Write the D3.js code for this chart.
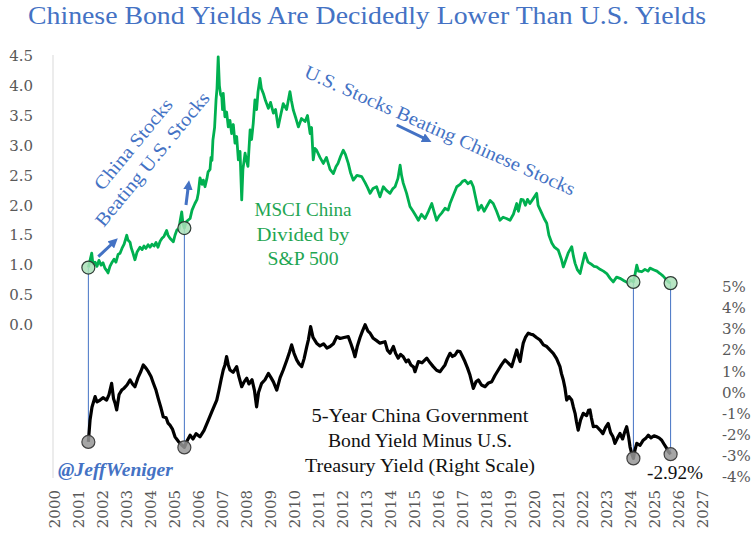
<!DOCTYPE html>
<html><head><meta charset="utf-8">
<script src="https://cdn.jsdelivr.net/npm/d3@7"></script>
<style>
html,body{margin:0;padding:0;background:#fff;}
svg{display:block;}
</style></head>
<body><svg id="chart" width="755" height="536"></svg>
<script>
// ---- data ----
const msciDates = [2001.39,2001.46,2001.53,2001.58,2001.67,2001.75,2001.83,2001.92,2002.00,2002.08,2002.17,2002.21,2002.29,2002.38,2002.46,2002.54,2002.63,2002.71,2002.79,2002.88,2002.99,2003.04,2003.13,2003.17,2003.25,2003.33,2003.42,2003.54,2003.63,2003.71,2003.79,2003.88,2003.96,2004.04,2004.13,2004.21,2004.29,2004.38,2004.46,2004.54,2004.65,2004.71,2004.79,2004.93,2005.00,2005.08,2005.17,2005.21,2005.28,2005.33,2005.39,2005.46,2005.54,2005.63,2005.71,2005.83,2005.92,2005.97,2006.04,2006.13,2006.18,2006.25,2006.33,2006.38,2006.46,2006.50,2006.54,2006.58,2006.65,2006.71,2006.75,2006.80,2006.85,2006.90,2006.95,2006.98,2007.01,2007.08,2007.15,2007.22,2007.29,2007.36,2007.43,2007.50,2007.57,2007.64,2007.71,2007.78,2007.83,2007.92,2007.98,2008.04,2008.13,2008.19,2008.26,2008.33,2008.40,2008.46,2008.54,2008.60,2008.68,2008.77,2008.89,2008.98,2009.10,2009.19,2009.30,2009.40,2009.51,2009.65,2009.79,2009.85,2009.93,2010.04,2010.14,2010.27,2010.42,2010.52,2010.63,2010.69,2010.76,2010.83,2010.90,2011.04,2011.18,2011.31,2011.46,2011.60,2011.71,2011.79,2011.90,2012.01,2012.10,2012.22,2012.31,2012.43,2012.58,2012.78,2012.92,2013.02,2013.13,2013.25,2013.40,2013.54,2013.68,2013.81,2013.96,2014.08,2014.17,2014.29,2014.38,2014.44,2014.51,2014.65,2014.79,2014.92,2015.04,2015.14,2015.27,2015.42,2015.56,2015.70,2015.79,2015.90,2016.00,2016.11,2016.25,2016.38,2016.46,2016.58,2016.74,2016.88,2016.98,2017.08,2017.21,2017.33,2017.43,2017.54,2017.64,2017.77,2017.88,2017.99,2018.13,2018.26,2018.40,2018.54,2018.67,2018.81,2018.96,2019.10,2019.24,2019.31,2019.42,2019.51,2019.60,2019.69,2019.79,2019.94,2020.07,2020.13,2020.28,2020.38,2020.49,2020.58,2020.70,2020.81,2020.97,2021.10,2021.18,2021.25,2021.38,2021.53,2021.60,2021.67,2021.77,2021.88,2021.96,2022.08,2022.21,2022.33,2022.46,2022.57,2022.71,2022.85,2022.99,2023.13,2023.26,2023.40,2023.54,2023.71,2023.89,2023.98,2024.10,2024.17,2024.24,2024.31,2024.45,2024.58,2024.71,2024.79,2024.96,2025.08,2025.21,2025.33,2025.49,2025.56,2025.65];
const msciRatio = [0.96,1.08,1.20,1.02,1.05,0.98,1.08,1.00,1.04,0.95,0.90,0.87,0.98,1.05,1.10,1.05,1.18,1.20,1.28,1.35,1.50,1.42,1.38,1.30,1.20,1.09,1.22,1.30,1.26,1.32,1.28,1.34,1.30,1.35,1.32,1.38,1.30,1.40,1.45,1.48,1.58,1.50,1.45,1.39,1.50,1.59,1.60,1.73,1.89,1.70,1.62,1.72,1.75,1.78,1.92,2.03,2.10,2.20,2.46,2.35,2.42,2.31,2.45,2.56,2.60,2.80,2.75,3.09,3.30,3.76,3.95,4.48,4.00,3.85,3.81,3.60,3.87,3.48,3.56,3.31,3.42,3.20,3.35,3.04,3.15,2.76,2.90,2.09,2.60,2.87,2.75,2.65,3.26,3.10,3.37,3.76,3.60,3.90,4.12,3.95,3.87,3.75,3.62,3.72,3.54,3.60,3.31,3.50,3.70,3.60,3.90,3.75,3.59,3.45,3.31,3.45,3.40,3.50,3.20,3.30,2.76,2.95,2.92,2.80,2.70,2.80,2.60,2.53,2.65,2.70,2.82,2.92,2.85,2.70,2.55,2.42,2.50,2.48,2.38,2.30,2.20,2.28,2.31,2.14,2.31,2.25,2.20,2.28,2.31,2.45,2.67,2.50,2.37,2.20,1.98,1.90,1.82,1.75,1.85,1.78,1.90,2.03,1.90,1.75,1.82,1.87,1.95,1.92,2.03,2.15,2.31,2.35,2.40,2.42,2.36,2.40,2.31,2.10,1.92,2.00,1.90,1.98,2.08,2.03,1.90,1.75,1.80,1.78,1.75,1.85,2.03,1.90,2.10,2.09,2.00,2.10,2.03,2.12,2.20,2.00,1.87,1.78,1.70,1.50,1.37,1.30,1.25,1.10,0.97,1.05,1.20,1.31,1.15,1.03,0.92,0.86,1.00,1.20,1.05,1.02,0.98,0.97,0.93,0.90,0.86,0.78,0.72,0.80,0.78,0.74,0.70,0.75,0.72,0.85,1.00,0.90,0.89,0.93,0.90,0.95,0.92,0.90,0.86,0.82,0.75,0.72,0.70];

const spreadDates = [2001.39,2001.46,2001.54,2001.67,2001.75,2001.88,2002.00,2002.15,2002.25,2002.36,2002.44,2002.50,2002.57,2002.67,2002.78,2002.88,2003.00,2003.13,2003.23,2003.33,2003.46,2003.58,2003.68,2003.79,2003.89,2004.00,2004.10,2004.21,2004.30,2004.42,2004.51,2004.63,2004.71,2004.79,2004.90,2005.00,2005.13,2005.25,2005.39,2005.50,2005.63,2005.75,2005.88,2006.04,2006.21,2006.39,2006.54,2006.74,2006.83,2006.92,2007.01,2007.08,2007.15,2007.22,2007.29,2007.42,2007.57,2007.65,2007.78,2007.88,2007.99,2008.08,2008.21,2008.31,2008.40,2008.48,2008.61,2008.75,2008.89,2009.00,2009.10,2009.24,2009.38,2009.51,2009.65,2009.77,2009.86,2009.96,2010.07,2010.17,2010.28,2010.38,2010.49,2010.56,2010.65,2010.75,2010.90,2011.04,2011.19,2011.33,2011.46,2011.60,2011.74,2011.88,2012.04,2012.22,2012.33,2012.42,2012.50,2012.60,2012.71,2012.81,2012.92,2013.04,2013.13,2013.26,2013.40,2013.54,2013.75,2013.85,2013.96,2014.10,2014.19,2014.30,2014.40,2014.51,2014.63,2014.72,2014.83,2014.94,2015.00,2015.14,2015.29,2015.49,2015.63,2015.76,2015.90,2016.04,2016.15,2016.25,2016.35,2016.46,2016.56,2016.67,2016.77,2016.88,2016.98,2017.08,2017.19,2017.29,2017.43,2017.54,2017.64,2017.77,2017.92,2018.06,2018.20,2018.33,2018.47,2018.60,2018.75,2018.88,2019.03,2019.13,2019.24,2019.31,2019.38,2019.44,2019.51,2019.60,2019.72,2019.83,2019.93,2020.06,2020.21,2020.35,2020.49,2020.63,2020.76,2020.90,2021.04,2021.10,2021.18,2021.25,2021.32,2021.42,2021.53,2021.60,2021.67,2021.73,2021.80,2021.90,2022.01,2022.15,2022.23,2022.29,2022.35,2022.43,2022.56,2022.71,2022.83,2022.94,2023.05,2023.15,2023.25,2023.33,2023.44,2023.54,2023.65,2023.73,2023.82,2023.90,2023.96,2024.03,2024.10,2024.17,2024.24,2024.38,2024.51,2024.63,2024.72,2024.83,2024.96,2025.07,2025.17,2025.28,2025.38,2025.49,2025.56,2025.65];
const spreadValues = [-2.34,-1.31,-0.70,-0.20,-0.45,-0.36,-0.25,-0.36,-0.10,0.43,-0.30,-0.50,-0.83,-0.10,0.11,0.20,0.35,0.59,0.40,0.27,0.70,1.00,1.30,1.15,0.98,0.75,0.43,0.10,-0.28,-0.75,-1.15,-1.20,-1.45,-1.55,-1.75,-2.10,-2.30,-2.45,-2.60,-2.30,-2.02,-2.20,-1.95,-2.10,-1.80,-1.31,-0.90,-0.36,0.10,0.60,1.06,1.30,1.69,1.30,1.06,0.95,1.22,0.80,0.27,0.50,0.67,0.40,0.60,0.10,-0.68,0.00,0.43,0.60,0.90,0.70,0.50,0.11,0.70,1.06,1.50,1.90,2.25,1.85,1.54,1.35,1.22,1.60,2.17,2.50,3.11,2.60,2.33,2.20,2.30,2.10,2.17,2.30,2.64,2.55,2.60,2.64,2.30,2.00,1.69,2.20,2.60,2.90,3.20,2.90,2.80,2.56,2.45,2.33,2.40,2.00,1.85,2.17,1.85,1.62,1.80,1.69,1.45,1.54,1.30,1.20,0.98,1.46,1.40,1.62,1.40,1.22,1.05,0.98,1.15,1.30,1.60,1.85,1.70,1.77,1.95,1.93,1.70,1.46,1.15,0.82,0.19,0.50,0.59,0.35,0.27,0.45,0.51,0.80,1.06,1.30,1.54,1.40,1.22,1.60,2.01,1.70,1.46,1.90,2.33,2.60,2.80,2.75,2.72,2.60,2.48,2.25,2.17,2.00,1.85,1.60,1.22,0.90,0.59,0.20,-0.36,-0.20,-0.36,-0.70,-0.99,-1.40,-1.78,-1.30,-0.99,-1.10,-0.85,-0.83,-1.20,-1.62,-1.60,-1.78,-1.95,-1.65,-1.47,-1.90,-2.10,-2.41,-2.15,-1.94,-2.20,-1.90,-1.62,-2.10,-2.57,-2.90,-3.12,-2.70,-2.41,-2.50,-2.26,-2.15,-2.02,-2.15,-2.05,-2.10,-2.15,-2.26,-2.45,-2.65,-2.80,-2.92];

const markerDates = [2001.39, 2005.39, 2024.10, 2025.65];
const yearTicks = d3.range(2000, 2028);
const leftTicks = [0,0.5,1,1.5,2,2.5,3,3.5,4,4.5];
const rightTicks = [-4,-3,-2,-1,0,1,2,3,4,5];

const titleText = "Chinese Bond Yields Are Decidedly Lower Than U.S. Yields";
const msciLabel = ["MSCI China","Divided by","S&P 500"];
const spreadLabel = ["5-Year China Government","Bond Yield Minus U.S.","Treasury Yield (Right Scale)"];

// ---- drawing ----
const svg = d3.select("#chart");
const BLUE = "#4472C4", GREEN = "#00B050", GREENTXT = "#1FA653", GRAY = "#595959";
const serif = "'Liberation Serif', 'DejaVu Serif', serif";
const axisFont = "'DejaVu Serif', serif";

const x = d3.scaleLinear().domain([2000, 2027]).range([55, 703]);
const yL = d3.scaleLinear().domain([0, 4.5]).range([325, 55.7]);
const yR = d3.scaleLinear().domain([-4, 5]).range([477, 286.7]);

// title
svg.append("text").attr("x", 28).attr("y", 24)
  .attr("font-family", serif).attr("font-size", 25).attr("fill", BLUE)
  .attr("textLength", 678).attr("lengthAdjust", "spacingAndGlyphs")
  .text(titleText);

// left axis line
svg.append("line").attr("x1", 53).attr("x2", 53).attr("y1", 55).attr("y2", 478)
  .attr("stroke", "#d9d9d9").attr("stroke-width", 1);

// left ticks
svg.append("g").selectAll("text").data(leftTicks).join("text")
  .attr("x", 33).attr("y", d => yL(d)).attr("dy", "0.35em")
  .attr("text-anchor", "end").attr("font-family", axisFont).attr("font-size", 15)
  .attr("fill", GRAY).text(d => d3.format(".1f")(d));

// right ticks
svg.append("g").selectAll("text").data(rightTicks).join("text")
  .attr("x", 722).attr("y", d => yR(d)).attr("dy", "0.35em")
  .attr("text-anchor", "start").attr("font-family", axisFont).attr("font-size", 15)
  .attr("fill", GRAY).text(d => `${d}%`);

// x ticks
svg.append("g").selectAll("text").data(yearTicks).join("text")
  .attr("transform", d => `translate(${x(d)},490) rotate(-90)`)
  .attr("dy", "0.35em").attr("text-anchor", "end")
  .attr("font-family", axisFont).attr("font-size", 15)
  .attr("fill", GRAY).text(d => d);

const msci = msciDates.map((d, i) => [d, msciRatio[i]]);
const spread = spreadDates.map((d, i) => [d, spreadValues[i]]);
const nearest = (arr, d) => arr.reduce((a, b) => Math.abs(b[0] - d) < Math.abs(a[0] - d) ? b : a);

// connector lines
markerDates.forEach(d => {
  const g = nearest(msci, d), b = nearest(spread, d);
  svg.append("line").attr("x1", x(g[0])).attr("x2", x(g[0]))
    .attr("y1", yL(g[1])).attr("y2", yR(b[1]))
    .attr("stroke", BLUE).attr("stroke-width", 1);
});

// lines
svg.append("path").datum(msci)
  .attr("d", d3.line().x(d => x(d[0])).y(d => yL(d[1])))
  .attr("fill", "none").attr("stroke", GREEN).attr("stroke-width", 2.8).attr("stroke-linejoin", "round");
svg.append("path").datum(spread)
  .attr("d", d3.line().x(d => x(d[0])).y(d => yR(d[1])))
  .attr("fill", "none").attr("stroke", "#000").attr("stroke-width", 3.2).attr("stroke-linejoin", "round");

// markers
markerDates.forEach(d => {
  const g = nearest(msci, d), b = nearest(spread, d);
  svg.append("circle").attr("cx", x(g[0])).attr("cy", yL(g[1])).attr("r", 6.5)
    .attr("fill", "rgba(170,225,185,0.85)").attr("stroke", "#2f3b35").attr("stroke-width", 1.2);
  svg.append("circle").attr("cx", x(b[0])).attr("cy", yR(b[1])).attr("r", 6.5)
    .attr("fill", "rgba(150,150,150,0.85)").attr("stroke", "#404040").attr("stroke-width", 1.2);
});

// arrows
const defs = svg.append("defs");
defs.append("marker").attr("id", "ah").attr("viewBox", "0 0 10 10").attr("refX", 6).attr("refY", 5)
  .attr("markerWidth", 3.2).attr("markerHeight", 3.2).attr("orient", "auto")
  .append("path").attr("d", "M0,0 L10,5 L0,10 z").attr("fill", BLUE);
[[98.3,256.7,115,241],[186,205,188.6,184],[396.7,125,428,140.2]].forEach(a => {
  svg.append("line").attr("x1", a[0]).attr("y1", a[1]).attr("x2", a[2]).attr("y2", a[3])
    .attr("stroke", BLUE).attr("stroke-width", 3).attr("marker-end", "url(#ah)");
});

// rotated annotations
function rotText(txt, cx, cy, ang, len) {
  svg.append("text").attr("transform", `translate(${cx},${cy}) rotate(${ang})`)
    .attr("text-anchor", "middle").attr("dy", "0.35em")
    .attr("font-family", serif).attr("font-size", 19).attr("fill", BLUE)
    .attr("textLength", len).attr("lengthAdjust", "spacingAndGlyphs").text(txt);
}
rotText("China Stocks", 133, 144, -50.5, 112);
rotText("Beating U.S. Stocks", 152, 159, -50.5, 168);
rotText("U.S. Stocks Beating Chinese Stocks", 440, 130, 23.9, 294);

// series labels
const msciW = [97, 93, 71];
msciLabel.forEach((t, i) => {
  svg.append("text").attr("x", 303).attr("y", 216 + i * 24.5).attr("text-anchor", "middle")
    .attr("font-family", serif).attr("font-size", 19).attr("fill", GREENTXT)
    .attr("textLength", msciW[i]).attr("lengthAdjust", "spacingAndGlyphs").text(t);
});
const spW = [217, 184, 230];
spreadLabel.forEach((t, i) => {
  svg.append("text").attr("x", 420).attr("y", 422 + i * 24.8).attr("text-anchor", "middle")
    .attr("font-family", serif).attr("font-size", 19).attr("fill", "#111")
    .attr("textLength", spW[i]).attr("lengthAdjust", "spacingAndGlyphs").text(t);
});

// last value label
const last = spread[spread.length - 1];
svg.append("text").attr("x", 647).attr("y", 479)
  .attr("font-family", serif).attr("font-size", 18).attr("fill", "#111")
  .attr("textLength", 56).attr("lengthAdjust", "spacingAndGlyphs")
  .text(`${d3.format(".2f")(last[1]).replace("−", "-")}%`);

// handle
svg.append("text").attr("x", 58).attr("y", 476)
  .attr("font-family", serif).attr("font-size", 19).attr("font-weight", "bold").attr("font-style", "italic")
  .attr("fill", BLUE).attr("textLength", 115).attr("lengthAdjust", "spacingAndGlyphs")
  .text("@JeffWeniger");
</script></body></html>
